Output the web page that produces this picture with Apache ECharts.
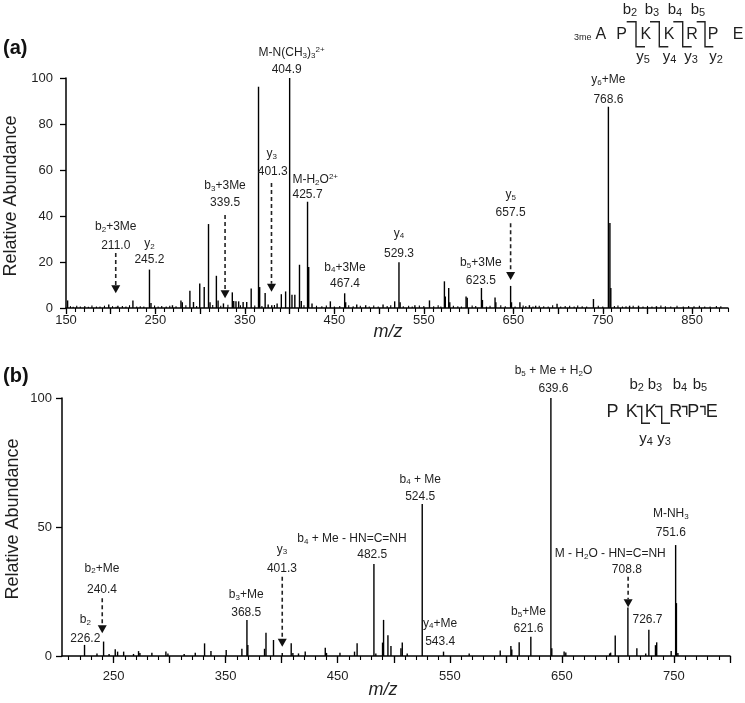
<!DOCTYPE html>
<html><head><meta charset="utf-8">
<script src="https://cdn.jsdelivr.net/npm/echarts@6/dist/echarts.min.js"></script>
<style>html,body{margin:0;padding:0;background:#fff}#c{width:745px;height:703px}</style>
</head><body><div id="c"></div>
<script>
const FONT = "'Liberation Sans', Arial, sans-serif";
const INK = '#1f1f1f';

// ---------- Panel (a) ----------
const aXLabels = [150, 250, 350, 450, 550, 650, 750, 850];
const aYLabels = [0, 20, 40, 60, 80, 100];
const aPeakMz = [151.8, 197.8, 208, 224.8, 243.3, 245, 269, 278.5, 280, 288.5, 292.5, 299.5, 304.5, 309.3, 311, 318.1, 320, 326, 335.9, 337.5, 340, 343, 348, 352, 357, 365.2, 366.5, 372.6, 376, 380, 386, 390.7, 395.5, 400, 402.6, 405.8, 411, 413, 420, 421.3, 425, 445.5, 461.5, 462.6, 475, 485, 504.4, 517.4, 522.2, 523.5, 540, 556.3, 573, 574, 577.8, 579, 597.2, 598.5, 614.4, 615.5, 629.6, 630.5, 647, 648, 657.4, 668, 675, 698.9, 739.6, 756.3, 758, 759, 780, 790, 810];
const aPeakAbund = [3.3, 1.5, 1.0, 3.3, 16.7, 2.2, 1.2, 3.3, 2.5, 7.5, 2.6, 10.6, 9.1, 36.5, 2.5, 14, 3.3, 2.0, 6.8, 3.0, 2.9, 2.9, 2.6, 2.6, 8.5, 96.2, 9.1, 6.5, 1.5, 1.2, 2.0, 6.0, 7.2, 100, 5.8, 5.8, 18.8, 3.0, 46.2, 17.8, 2.0, 2.9, 6.4, 2.5, 1.5, 1.2, 1.5, 2.9, 19.9, 2.5, 1.2, 3.3, 11.6, 5.0, 8.7, 2.5, 5.0, 4.5, 8.7, 3.5, 4.6, 2.5, 9.6, 2.5, 2.5, 1.2, 1.0, 1.9, 3.9, 87.5, 37, 8.7, 1.0, 1.0, 0.8];
const aNoiseMz = [155, 158, 162, 166, 171, 175, 179, 184, 188, 193, 202, 206, 213, 217, 221, 229, 233, 237, 249, 253, 257, 262, 266, 273, 284, 296, 314, 323, 331, 345, 361, 369, 383, 416, 430, 436, 441, 450, 456, 466, 471, 479, 489, 494, 499, 509, 513, 527, 533, 537, 545, 550, 561, 566, 569, 583, 588, 592, 604, 608, 620, 624, 636, 641, 652, 661, 664, 672, 679, 684, 689, 694, 703, 708, 713, 718, 722, 727, 732, 745, 750, 763, 767, 772, 776, 784, 795, 800, 805, 815, 820, 826, 833, 840, 846, 852, 858, 864, 870, 877, 882];
const aNoiseAbund = [0.8, 0.5, 1.0, 0.6, 0.9, 0.5, 1.1, 0.7, 0.6, 1.0, 0.8, 0.5, 0.9, 0.6, 1.2, 0.7, 0.8, 0.6, 1.1, 0.7, 0.9, 0.6, 1.0, 0.8, 1.2, 0.9, 1.3, 1.0, 1.4, 1.2, 1.1, 0.9, 1.3, 1.2, 1.0, 0.8, 1.1, 0.7, 0.9, 1.2, 0.8, 1.0, 0.7, 1.1, 0.6, 0.9, 1.2, 0.8, 1.0, 0.7, 1.1, 0.9, 0.8, 1.2, 0.6, 1.0, 0.8, 0.7, 1.1, 0.9, 0.6, 1.0, 1.2, 0.8, 0.7, 1.1, 0.9, 0.6, 1.0, 0.8, 0.7, 1.2, 0.6, 0.9, 1.0, 0.7, 1.1, 0.8, 0.6, 1.0, 0.7, 0.9, 1.1, 0.6, 0.8, 1.0, 0.7, 0.9, 0.6, 1.1, 0.8, 0.7, 1.0, 0.6, 0.9, 0.8, 1.0, 0.7, 0.6, 0.9, 0.8];
const aNoteMz = [205.6, 205.6, 243.3, 243.3, 327.8, 327.8, 380, 381.1, 402.2, 396.7, 428.6, 420, 461.9, 461.9, 522.2, 522.2, 613.7, 613.7, 647, 647, 756.3, 756.3];
const aNoteAbund = [35.2, 27.0, 28.1, 21.2, 53.0, 45.7, 67.0, 59.1, 110.9, 103.5, 55.7, 49.1, 17.7, 10.4, 32.5, 23.8, 19.7, 11.7, 49.1, 41.4, 99.1, 90.7];
const aNoteText = ['b{s|2}+3Me', '211.0', 'y{s|2}', '245.2', 'b{s|3}+3Me', '339.5', 'y{s|3}', '401.3', 'M-N(CH{s|3}){s|3}{p|2+}', '404.9', 'M-H{s|2}O{p|2+}', '425.7', 'b{s|4}+3Me', '467.4', 'y{s|4}', '529.3', 'b{s|5}+3Me', '623.5', 'y{s|5}', '657.5', 'y{s|6}+Me', '768.6'];
const aArrowMz = [205.6, 327.8, 379.7, 647];
const aArrowFrom = [23.9, 40.4, 54.3, 36.8];
const aArrowTo = [6.4, 4.2, 7.1, 12.2];

// ---------- Panel (b) ----------
const bXLabels = [250, 350, 450, 550, 650, 750];
const bYLabels = [0, 50, 100];
const bPeakMz = [224.1, 235.2, 241.1, 246, 251.5, 253.6, 259, 267.8, 272.3, 273.5, 284.2, 296.7, 298.5, 313, 322.9, 331.2, 336.9, 350.5, 364.5, 369, 369.8, 384.7, 386, 392.7, 400.5, 408.5, 410, 415, 421, 438.9, 440, 452, 465, 467.3, 482.3, 484, 490, 490.9, 494.8, 497.5, 506.4, 507.6, 512, 525.4, 544.4, 567.3, 595, 604.5, 605.3, 611.9, 622.3, 640.2, 641, 652, 653.5, 692.6, 693.5, 697.6, 708.9, 716.9, 724.8, 727.6, 733.5, 734.6, 747.5, 751.5, 752.2, 753.5];
const bPeakAbund = [4.3, 1.0, 5.6, 0.8, 2.6, 1.7, 1.7, 0.8, 1.9, 1.2, 1.3, 1.7, 1.0, 0.8, 1.3, 4.9, 1.9, 2.3, 2.8, 14, 4.3, 2.8, 9, 6.2, 1.2, 4.9, 1.2, 1.0, 1.7, 3.2, 1.2, 1.3, 1.7, 4.9, 35.7, 1.0, 5.2, 14, 8, 3.9, 3, 5.2, 1.0, 58.9, 1.7, 1.0, 2.1, 3.9, 2.5, 5.3, 7.5, 100, 3, 1.7, 1.4, 1.0, 1.3, 7.9, 18.8, 3, 1.0, 10.2, 4.2, 5.3, 1.9, 43, 20.5, 1.2];
const bNoteMz = [224.8, 224.8, 239.7, 239.7, 368.4, 368.4, 400.2, 400.2, 462.7, 480.8, 523.6, 523.6, 541.4, 541.4, 620.2, 620.2, 642.5, 642.5, 693.1, 708, 726.4, 747.2, 747.2];
const bNoteAbund = [14.2, 6.9, 34.0, 25.6, 23.6, 16.8, 41.4, 34.0, 45.3, 39.1, 68.5, 61.7, 12.7, 5.5, 17.2, 10.7, 110.6, 103.8, 39.8, 33.6, 14.2, 55.0, 47.8];
const bNoteText = ['b{s|2}', '226.2', 'b{s|2}+Me', '240.4', 'b{s|3}+Me', '368.5', 'y{s|3}', '401.3', 'b{s|4} + Me - HN=C=NH', '482.5', 'b{s|4} + Me', '524.5', 'y{s|4}+Me', '543.4', 'b{s|5}+Me', '621.6', 'b{s|5} + Me + H{s|2}O', '639.6', 'M - H{s|2}O - HN=C=NH', '708.8', '726.7', 'M-NH{s|3}', '751.6'];
const bArrowMz = [239.9, 400.5, 709.1];
const bArrowFrom = [22.4, 30.7, 30.7];
const bArrowTo = [8.8, 3.6, 18.9];

// ---------- rendering helpers ----------
const RICH = {
  s: {fontSize: 8, lineHeight: 6, verticalAlign: 'bottom', fontFamily: FONT, fill: INK},
  p: {fontSize: 8, lineHeight: 6, verticalAlign: 'top', fontFamily: FONT, fill: INK}
};
const RICH_SEQ = {
  S: {fontSize: 11, lineHeight: 8, verticalAlign: 'bottom', fontFamily: FONT, fill: INK}
};

function zip2(a, b) { return a.map((v, i) => [v, b[i]]); }

function peakSeries(mz, ab, xi, yi, lw) {
  return {
    type: 'custom', xAxisIndex: xi, yAxisIndex: yi, silent: true, clip: false,
    data: zip2(mz, ab), encode: {x: 0, y: 1},
    renderItem: function (params, api) {
      const p0 = api.coord([api.value(0), 0]);
      const p1 = api.coord([api.value(0), api.value(1)]);
      return {type: 'line', shape: {x1: p0[0], y1: p0[1], x2: p1[0], y2: p1[1]},
        style: {stroke: '#000', lineWidth: lw}};
    }
  };
}
function noteSeries(mz, ab, texts, xi, yi) {
  return {
    type: 'custom', xAxisIndex: xi, yAxisIndex: yi, silent: true, clip: false,
    data: mz.map((m, i) => [m, ab[i], i]), encode: {x: 0, y: 1},
    renderItem: function (params, api) {
      const p = api.coord([api.value(0), api.value(1)]);
      return {type: 'text', x: p[0], y: p[1],
        style: {text: texts[api.value(2)], rich: RICH, fontSize: 12, fontFamily: FONT,
          lineHeight: 14, fill: INK, align: 'center', verticalAlign: 'middle'}};
    }
  };
}
function arrowSeries(mz, from, to, xi, yi) {
  return {
    type: 'custom', xAxisIndex: xi, yAxisIndex: yi, silent: true, clip: false,
    data: mz.map((m, i) => [m, from[i], to[i]]), encode: {x: 0, y: [1, 2]},
    renderItem: function (params, api) {
      const p0 = api.coord([api.value(0), api.value(1)]);
      const p1 = api.coord([api.value(0), api.value(2)]);
      const th = 8, tw = 4.5;
      return {type: 'group', children: [
        {type: 'line', shape: {x1: p0[0], y1: p0[1], x2: p1[0], y2: p1[1] - th},
          style: {stroke: '#222', lineWidth: 1.6, lineDash: [4, 3]}},
        {type: 'polygon', shape: {points: [[p1[0] - tw, p1[1] - th], [p1[0] + tw, p1[1] - th], [p1[0], p1[1]]]},
          style: {fill: '#111'}}
      ]};
    }
  };
}

function ticks(from, to, step) { const r = []; for (let v = from; v <= to + 1e-9; v += step) r.push(v); return r; }

function xMain(grid, min, max, labels, majors, margin, tickLen) {
  return {type: 'value', gridIndex: grid, position: 'bottom', min: min, max: max,
    axisLine: {show: true, onZero: false, lineStyle: {color: '#000', width: 1.5}},
    axisTick: {show: true, customValues: majors, length: tickLen, lineStyle: {color: '#000', width: 1.3}},
    axisLabel: {show: true, customValues: labels, margin: margin, fontSize: 13, fontFamily: FONT, color: INK},
    splitLine: {show: false}};
}
function xMinor(grid, min, max, minors, tickLen) {
  return {type: 'value', gridIndex: grid, position: 'bottom', offset: 0, min: min, max: max,
    axisLine: {show: false, onZero: false},
    axisTick: {show: true, customValues: minors, length: tickLen, lineStyle: {color: '#000', width: 1.1}},
    axisLabel: {show: false}, splitLine: {show: false}};
}
function yAxis(grid, interval, margin) {
  return {type: 'value', gridIndex: grid, min: 0, max: 100, interval: interval,
    axisLine: {show: true, lineStyle: {color: '#000', width: 1.5}},
    axisTick: {show: true, length: 6, lineStyle: {color: '#000', width: 1.3}},
    axisLabel: {margin: margin, fontSize: 13, fontFamily: FONT, color: INK},
    splitLine: {show: false}};
}

function seqText(x, y, text, size, rich) {
  return {type: 'text', x: x, y: y, silent: true,
    style: {text: text, rich: rich || RICH_SEQ, fontSize: size, fontFamily: FONT, fill: INK,
      lineHeight: size + 2, align: 'center', verticalAlign: 'middle'}};
}
function bracket(pts) {
  return {type: 'polyline', silent: true, shape: {points: pts}, style: {stroke: '#222', lineWidth: 1.4, fill: null}};
}

const graphics = [
  {type: 'text', x: 3, y: 48, style: {text: '(a)', fontSize: 20, fontWeight: 'bold', fontFamily: FONT, fill: '#111', align: 'left', verticalAlign: 'middle'}},
  {type: 'text', x: 3, y: 376, style: {text: '(b)', fontSize: 20, fontWeight: 'bold', fontFamily: FONT, fill: '#111', align: 'left', verticalAlign: 'middle'}},
  {type: 'text', x: 11, y: 196, rotation: Math.PI / 2, style: {text: 'Relative Abundance', fontSize: 18, fontFamily: FONT, fill: INK, align: 'center', verticalAlign: 'middle'}},
  {type: 'text', x: 13, y: 519, rotation: Math.PI / 2, style: {text: 'Relative Abundance', fontSize: 18, fontFamily: FONT, fill: INK, align: 'center', verticalAlign: 'middle'}},
  {type: 'text', x: 388, y: 332, style: {text: 'm/z', fontSize: 18, fontStyle: 'italic', fontFamily: FONT, fill: INK, align: 'center', verticalAlign: 'middle'}},
  {type: 'text', x: 383, y: 690, style: {text: 'm/z', fontSize: 18, fontStyle: 'italic', fontFamily: FONT, fill: INK, align: 'center', verticalAlign: 'middle'}},
  // sequence (a)
  seqText(582.7, 37.5, '3me', 9),
  seqText(600.8, 34.7, 'A', 16), seqText(621.7, 34.7, 'P', 16), seqText(645.8, 34.7, 'K', 16),
  seqText(669, 34.7, 'K', 16), seqText(692, 34.7, 'R', 16), seqText(713, 34.7, 'P', 16), seqText(738, 34.7, 'E', 16),
  seqText(630, 10, 'b{S|2}', 15), seqText(652, 10, 'b{S|3}', 15), seqText(675, 10, 'b{S|4}', 15), seqText(698, 10, 'b{S|5}', 15),
  seqText(643, 57, 'y{S|5}', 15), seqText(669.5, 57, 'y{S|4}', 15), seqText(691, 57, 'y{S|3}', 15), seqText(716, 57, 'y{S|2}', 15),
  bracket([[626.7, 21.7], [636, 21.7], [636, 46.7], [645, 46.7]]),
  bracket([[650, 21.7], [659.3, 21.7], [659.3, 46.7], [668.3, 46.7]]),
  bracket([[673.3, 21.7], [682.7, 21.7], [682.7, 46.7], [691.7, 46.7]]),
  bracket([[696.7, 21.7], [705, 21.7], [705, 46.7], [713.3, 46.7]]),
  // sequence (b)
  seqText(612.5, 412, 'P', 18), seqText(631.7, 412, 'K', 18), seqText(650.8, 412, 'K', 18),
  seqText(675.8, 412, 'R', 18), seqText(693.3, 412, 'P', 18), seqText(711.7, 412, 'E', 18),
  seqText(636.7, 385, 'b{S|2}', 15), seqText(655, 385, 'b{S|3}', 15), seqText(680, 385, 'b{S|4}', 15), seqText(700, 385, 'b{S|5}', 15),
  seqText(646, 439, 'y{S|4}', 15), seqText(664, 439, 'y{S|3}', 15),
  bracket([[636.7, 406.5], [641.7, 406.5], [641.7, 423.3], [650, 423.3]]),
  bracket([[655, 406.5], [661.7, 406.5], [661.7, 423.3], [670, 423.3]]),
  bracket([[681.7, 406.5], [686.7, 406.5], [686.7, 415]]),
  bracket([[700, 406.5], [705, 406.5], [705, 415]])
];

const chart = echarts.init(document.getElementById('c'), null, {renderer: 'canvas'});
chart.setOption({
  backgroundColor: '#fff',
  animation: false,
  grid: [
    {left: 66, top: 78, width: 662, height: 230},
    {left: 62, top: 398, width: 668, height: 258}
  ],
  xAxis: [
    xMain(0, 150, 890, aXLabels, ticks(150, 850, 50), 6, 6),
    xMinor(0, 150, 890, ticks(160, 890, 10), 4),
    xMain(1, 204, 800, bXLabels, ticks(250, 800, 50), 14, 7),
    xMinor(1, 204, 800, ticks(210, 800, 10), 4)
  ],
  yAxis: [yAxis(0, 20, 13), yAxis(1, 50, 10)],
  series: [
    peakSeries(aNoiseMz, aNoiseAbund, 0, 0, 1.1),
    peakSeries(aPeakMz, aPeakAbund, 0, 0, 1.4),
    peakSeries(bPeakMz, bPeakAbund, 2, 1, 1.4),
    noteSeries(aNoteMz, aNoteAbund, aNoteText, 0, 0),
    noteSeries(bNoteMz, bNoteAbund, bNoteText, 2, 1),
    arrowSeries(aArrowMz, aArrowFrom, aArrowTo, 0, 0),
    arrowSeries(bArrowMz, bArrowFrom, bArrowTo, 2, 1)
  ],
  graphic: graphics
});
</script>
</body></html>
